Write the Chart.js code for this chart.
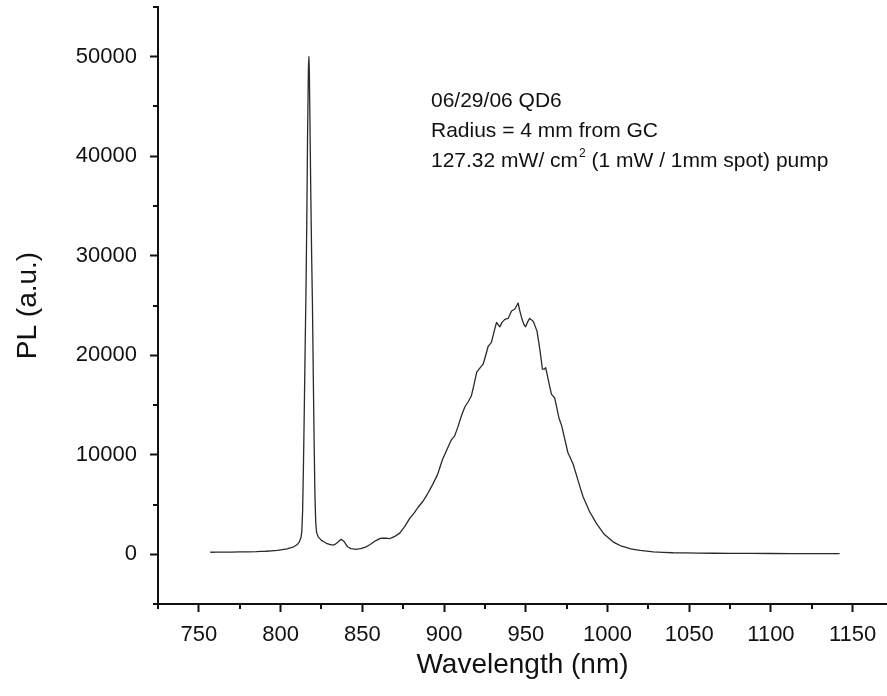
<!DOCTYPE html>
<html>
<head>
<meta charset="utf-8">
<script src="https://cdn.jsdelivr.net/npm/chart.js@4/dist/chart.umd.min.js"></script>
<style>
  body { margin: 0; background: #fff; }
  canvas { display: block; }
</style>
</head>
<body>
<canvas id="c" width="887" height="696"></canvas>
<script>
// wavelength (nm) and PL intensity
const wavelength = [757, 765, 775, 785, 791, 798, 804, 808, 810, 811.5, 812.5, 813, 813.5, 814, 814.5, 815, 815.5, 816, 816.5, 817, 817.3, 817.6, 818, 818.5, 819, 819.5, 820, 820.5, 821, 821.5, 822, 823, 825, 828, 831, 833, 835, 837, 839, 841, 843, 846, 849, 852, 855, 858, 861, 864, 867, 870, 873, 876, 879, 882, 884, 887, 890, 893, 896, 899, 902, 904.5, 906.5, 908.5, 910.6, 912.7, 914.7, 916.7, 918.8, 920, 921.9, 923.9, 925.5, 927, 929, 930.5, 932.1, 934.1, 935.5, 937.2, 939.2, 941.3, 943.3, 944.5, 945.3, 946.3, 947.4, 948.6, 949.8, 951, 952.4, 954, 954.9, 956.9, 958.6, 960.2, 961.3, 962.2, 964.2, 965.7, 967.7, 970.3, 972, 975.8, 978.9, 982, 985, 989, 993.2, 998, 1003.4, 1008, 1013.6, 1020, 1028, 1040, 1055, 1075, 1100, 1125, 1142]
const pl = [200, 210, 230, 260, 300, 380, 550, 750, 950, 1250, 1700, 2300, 4500, 9000, 14500, 20500, 26000, 33000, 42000, 48500, 50000, 48500, 43000, 36000, 30000, 25000, 18000, 11500, 6000, 3200, 2200, 1750, 1400, 1100, 950, 950, 1200, 1500, 1250, 750, 560, 500, 560, 720, 1000, 1350, 1600, 1620, 1580, 1800, 2150, 2800, 3600, 4200, 4700, 5300, 6100, 7000, 8000, 9500, 10600, 11500, 11900, 12800, 13900, 14800, 15300, 15900, 17400, 18300, 18700, 19100, 20000, 20900, 21300, 22300, 23300, 22850, 23300, 23600, 23700, 24450, 24650, 25000, 25250, 24500, 23800, 23200, 22850, 23300, 23700, 23500, 23300, 22400, 20600, 18600, 18600, 18750, 17200, 16100, 15700, 13700, 12900, 10200, 9100, 7400, 5800, 4300, 3100, 2000, 1250, 850, 570, 380, 230, 150, 110, 90, 75, 65, 60]

const xMin = 725, xMax = 1171, xStep = 25, xLabelEvery = 50
const yMin = -5000, yMax = 55000, yStep = 5000, yLabelEvery = 10000

const notes = ["06/29/06 QD6", "Radius = 4 mm from GC"]
const note3 = ["127.32 mW/ cm", "2", " (1 mW / 1mm spot) pump"]

const fontName = "'Liberation Sans', Arial, sans-serif"

let points = wavelength.map((w, i) => ({ x: w, y: pl[i] }))

// ticks every step, starting from the first round value
function stepTicks(s, step) {
  let list = []
  for (let v = Math.ceil(s.min / step) * step; v <= s.max; v += step) list.push({ value: v })
  s.ticks = list
}

// minor ticks shorter than the major ones
const minorTicks = {
  id: 'minorTicks',
  afterDraw(chart) {
    const ctx = chart.ctx
    const xs = chart.scales.x, ys = chart.scales.y
    ctx.save()
    ctx.strokeStyle = '#111'
    ctx.lineWidth = 2
    for (let t of xs.ticks) {
      if (t.value % xLabelEvery === 0) continue
      let px = Math.round(xs.getPixelForValue(t.value))
      ctx.beginPath()
      ctx.moveTo(px, xs.top)
      ctx.lineTo(px, xs.top + 5)
      ctx.stroke()
    }
    for (let t of ys.ticks) {
      if (t.value % yLabelEvery === 0 && t.value >= 0) continue
      let py = Math.round(ys.getPixelForValue(t.value))
      ctx.beginPath()
      ctx.moveTo(ys.right, py)
      ctx.lineTo(ys.right - 5, py)
      ctx.stroke()
    }
    ctx.restore()
  }
}

// the three lines of text in the plot
const noteText = {
  id: 'noteText',
  afterDraw(chart) {
    const ctx = chart.ctx
    ctx.save()
    ctx.fillStyle = '#111'
    ctx.textBaseline = 'alphabetic'
    ctx.font = '21px ' + fontName
    let x0 = 431
    ctx.fillText(notes[0], x0, 107)
    ctx.fillText(notes[1], x0, 137)
    let x = x0
    ctx.fillText(note3[0], x, 167)
    x += ctx.measureText(note3[0]).width
    ctx.font = '12px ' + fontName
    ctx.fillText(note3[1], x + 1, 157)
    x += ctx.measureText(note3[1]).width + 1
    ctx.font = '21px ' + fontName
    ctx.fillText(note3[2], x, 167)
    ctx.restore()
  }
}

new Chart(document.getElementById('c'), {
  type: 'line',
  data: {
    datasets: [{
      data: points,
      borderColor: '#2a2a2a',
      borderWidth: 1.3,
      borderJoinStyle: 'round',
      pointRadius: 0,
      // tiny tension keeps the segments straight but avoids the per-pixel fast path
      tension: 0.001,
      fill: false
    }]
  },
  options: {
    responsive: false,
    animation: false,
    layout: { padding: { top: 7, right: 0, bottom: 0, left: 0 } },
    plugins: { legend: { display: false }, tooltip: { enabled: false } },
    scales: {
      x: {
        type: 'linear',
        min: xMin,
        max: xMax,
        afterBuildTicks: s => stepTicks(s, xStep),
        afterFit: s => { s.height = 92; s.paddingLeft = 0; s.paddingRight = 0 },
        ticks: {
          autoSkip: false,
          maxRotation: 0,
          padding: 10,
          color: '#111',
          font: { family: fontName, size: 22 },
          callback: v => (v % xLabelEvery === 0 ? v : '')
        },
        grid: {
          drawOnChartArea: false,
          tickLength: 8,
          tickWidth: 2,
          tickColor: c => (c.tick && c.tick.value % xLabelEvery === 0 ? '#111' : 'rgba(0,0,0,0)')
        },
        border: { color: '#111', width: 2 },
        title: {
          display: true,
          text: 'Wavelength (nm)',
          color: '#111',
          font: { family: fontName, size: 28 },
          padding: { top: 0, bottom: 14 }
        }
      },
      y: {
        min: yMin,
        max: yMax,
        afterBuildTicks: s => stepTicks(s, yStep),
        afterFit: s => { s.width = 158; s.paddingTop = 0; s.paddingBottom = 0 },
        ticks: {
          autoSkip: false,
          padding: 13,
          color: '#111',
          font: { family: fontName, size: 22 },
          callback: v => (v % yLabelEvery === 0 && v >= 0 ? v : '')
        },
        grid: {
          drawOnChartArea: false,
          tickLength: 8,
          tickWidth: 2,
          tickColor: c => (c.tick && c.tick.value % yLabelEvery === 0 && c.tick.value >= 0 ? '#111' : 'rgba(0,0,0,0)')
        },
        border: { color: '#111', width: 2 },
        title: {
          display: true,
          text: 'PL (a.u.)',
          color: '#111',
          font: { family: fontName, size: 28 },
          padding: { top: 11, bottom: 0 }
        }
      }
    }
  },
  plugins: [minorTicks, noteText]
})
</script>
</body>
</html>
